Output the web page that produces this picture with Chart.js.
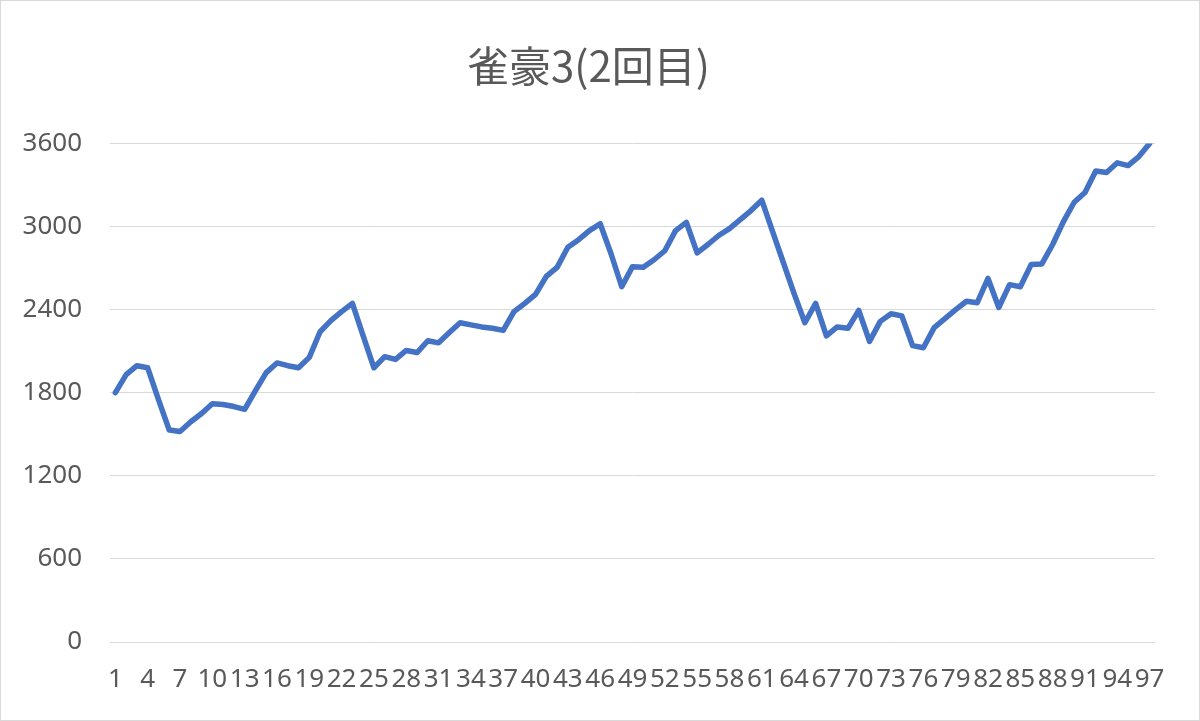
<!DOCTYPE html>
<html>
<head>
<meta charset="utf-8">
<script src="https://cdn.jsdelivr.net/npm/chart.js@4"></script>
<style>
  html, body { margin: 0; padding: 0; background: #ffffff; }
  #wrap { width: 1200px; height: 721px; }
</style>
</head>
<body>
<div id="wrap"><canvas id="chart" width="1200" height="721"></canvas></div>
<script>
// Chart data
const chartTitle = '雀豪3(2回目)';
const gameNumbers = Array.from({ length: 97 }, (_, i) => String(i + 1));
const points = [
    1800, 1930, 1995, 1980, 1750, 1530, 1520, 1590, 1650, 1720,
    1715, 1700, 1680, 1815, 1945, 2015, 1995, 1980, 2055, 2240,
    2320, 2385, 2445, 2210, 1980, 2060, 2040, 2105, 2090, 2175,
    2160, 2235, 2305, 2290, 2275, 2265, 2250, 2385, 2445, 2510,
    2640, 2705, 2850, 2905, 2970, 3020, 2805, 2565, 2710, 2705,
    2760, 2825, 2970, 3030, 2810, 2870, 2935, 2985, 3050, 3115,
    3190, 2965, 2740, 2515, 2305, 2445, 2210, 2275, 2265, 2395,
    2170, 2315, 2370, 2355, 2140, 2125, 2270, 2335, 2400, 2460,
    2450, 2625, 2415, 2580, 2565, 2725, 2730, 2870, 3035, 3175,
    3245, 3400, 3390, 3460, 3440, 3505, 3600
];
const yMin = 0;
const yMax = 3600;
const yStep = 600;

const textColor = '#595959';
const gridColor = '#d9d9d9';

// White background + thin outer frame like the Excel chart
const framePlugin = {
    id: 'frame',
    beforeDraw(chart) {
        const ctx = chart.ctx;
        ctx.save();
        ctx.fillStyle = '#ffffff';
        ctx.fillRect(0, 0, chart.width, chart.height);
        ctx.strokeStyle = '#d9d9d9';
        ctx.lineWidth = 1;
        ctx.strokeRect(0.5, 0.5, chart.width - 1, chart.height - 1);
        ctx.restore();
    }
};

const ctx = document.getElementById('chart');
new Chart(ctx, {
    type: 'line',
    data: {
        labels: gameNumbers,
        datasets: [{
            label: chartTitle,
            data: points,
            borderColor: '#4472C4',
            borderWidth: 5.5,
            borderJoinStyle: 'round',
            borderCapStyle: 'round',
            pointRadius: 0,
            tension: 0,
            fill: false
        }]
    },
    options: {
        responsive: false,
        animation: false,
        layout: {
            padding: { left: 22, right: 45, top: 0, bottom: 26 }
        },
        plugins: {
            legend: { display: false },
            tooltip: { enabled: false },
            title: {
                display: true,
                text: chartTitle,
                color: textColor,
                font: { family: '"Noto Sans CJK JP", "Noto Sans", sans-serif', size: 42, weight: 'normal', lineHeight: 1.2 },
                padding: { top: 41, bottom: 52 }
            }
        },
        scales: {
            x: {
                offset: true,
                grid: { display: false, drawTicks: false },
                border: { display: false },
                afterFit(scale) { scale.height = 53; },
                ticks: {
                    autoSkip: false,
                    maxRotation: 0,
                    minRotation: 0,
                    padding: 22,
                    color: textColor,
                    font: { family: '"Noto Sans", sans-serif', size: 26, lineHeight: 1.2 },
                    callback: function (value, index) {
                        return index % 3 === 0 ? gameNumbers[index] : '';
                    }
                }
            },
            y: {
                min: yMin,
                max: yMax,
                grid: { color: gridColor, lineWidth: 1, drawTicks: false },
                border: { display: false },
                afterFit(scale) { scale.width = 88; },
                ticks: {
                    stepSize: yStep,
                    padding: 28,
                    color: textColor,
                    font: { family: '"Noto Sans", sans-serif', size: 26 },
                    callback: function (value) { return String(value); }
                }
            }
        }
    },
    plugins: [framePlugin]
});
</script>
</body>
</html>
